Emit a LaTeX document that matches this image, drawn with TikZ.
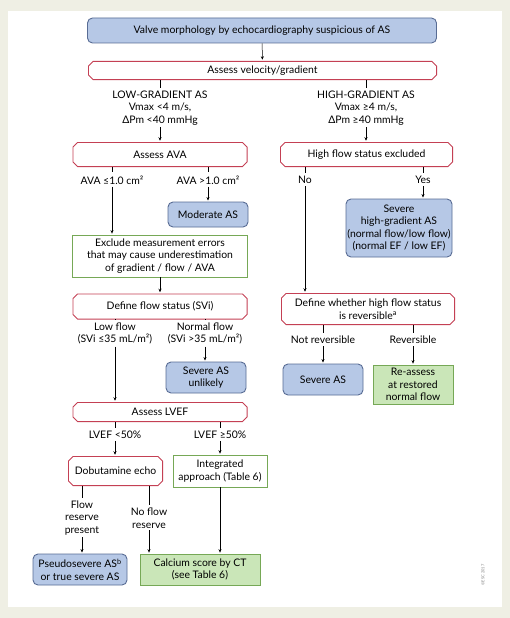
\documentclass[tikz,border=0pt]{standalone}
\usepackage{fontspec}
\setmainfont{Lato}
\usetikzlibrary{arrows.meta}

\definecolor{pagebg}{RGB}{239,239,228}
\definecolor{escred}{RGB}{196,64,84}
\definecolor{escblue}{RGB}{182,200,230}
\definecolor{escblueline}{RGB}{88,108,148}
\definecolor{escgreen}{RGB}{118,168,86}
\definecolor{escgreenfill}{RGB}{202,230,184}
\def\ppbb{path picture bounding box}

\begin{document}
\begin{tikzpicture}[x=1pt,y=-1pt,font=\fontsize{10.4}{12.5}\selectfont,
  >={Stealth[length=3.5pt,width=3pt]},line width=0.5pt,shorten >=1pt,
  redbox/.style={rectangle,fill=white,inner sep=1pt,align=center,
    path picture={\draw[escred,line width=0.9pt]
      ([xshift=5pt,yshift=-.45pt]\ppbb.north west) -- ([xshift=-5pt,yshift=-.45pt]\ppbb.north east)
      -- ([xshift=-.45pt,yshift=-5pt]\ppbb.north east) -- ([xshift=-.45pt,yshift=5pt]\ppbb.south east)
      -- ([xshift=-5pt,yshift=.45pt]\ppbb.south east) -- ([xshift=5pt,yshift=.45pt]\ppbb.south west)
      -- ([xshift=.45pt,yshift=5pt]\ppbb.south west) -- ([xshift=.45pt,yshift=-5pt]\ppbb.north west) -- cycle;}},
  bluebox/.style={rectangle,rounded corners=5pt,draw=escblueline,line width=0.9pt,
    fill=escblue,inner sep=1pt,align=center},
  greenbox/.style={rectangle,draw=escgreen,line width=0.7pt,fill=white,
    inner sep=1pt,align=center},
  greenfill/.style={greenbox,fill=escgreenfill},
  lbl/.style={align=center,inner sep=2pt}]
\fill[pagebg] (0,0) rectangle (510,618);
\fill[white] (8,11) rectangle (502,607);
\useasboundingbox (0,0) rectangle (510,618);
% boxes and labels
\node[bluebox,minimum width=349pt,minimum height=25pt] at (262,30.5) (valve) {Valve morphology by echocardiography suspicious of AS};
\node[redbox,minimum width=349pt,minimum height=19pt] at (262.5,70.5) (velgrad) {Assess velocity/gradient};
\node[lbl] at (160,108) (lowgrad) {LOW-GRADIENT AS\\Vmax <4 m/s,\\ΔPm <40 mmHg};
\node[lbl] at (366,108) (highgrad) {HIGH-GRADIENT AS\\Vmax ≥4 m/s,\\ΔPm ≥40 mmHg};
\node[redbox,minimum width=175pt,minimum height=25pt] at (160,154.5) (ava) {Assess AVA};
\node[redbox,minimum width=173pt,minimum height=25pt] at (366.5,154.5) (hfs) {High flow status excluded};
\node[lbl] at (112,180) (avale) {AVA ≤1.0 cm²};
\node[lbl] at (208,180) (avagt) {AVA >1.0 cm²};
\node[lbl] at (305,180) (no) {No};
\node[lbl] at (423,180) (yes) {Yes};
\node[bluebox,minimum width=80pt,minimum height=25pt] at (208,214.5) (moderate) {Moderate AS};
\node[bluebox,minimum width=106pt,minimum height=58pt] at (399,228) (severehg) {Severe\\high-gradient AS\\(normal flow/low flow)\\(normal EF / low EF)};
\node[greenbox,minimum width=175pt,minimum height=42pt] at (160,256) (exclude) {Exclude measurement errors\\that may cause underestimation\\of gradient / flow / AVA};
\node[redbox,minimum width=175pt,minimum height=26pt] at (160,306.5) (flowstat) {Define flow status (SVi)};
\node[redbox,minimum width=174pt,minimum height=32pt] at (368,309) (reversible) {Define whether high flow status\\is reversible\textsuperscript{a}};
\node[lbl] at (115,333.5) (lowflow) {Low flow\\(SVi ≤35 mL/m²)};
\node[lbl] at (205,333.5) (normflow) {Normal flow\\(SVi >35 mL/m²)};
\node[lbl] at (323,340) (notrev) {Not reversible};
\node[lbl] at (413,340) (rev) {Reversible};
\node[bluebox,minimum width=80pt,minimum height=31pt] at (206,377.5) (unlikely) {Severe AS\\unlikely};
\node[bluebox,minimum width=80pt,minimum height=31pt] at (323,379.5) (severe) {Severe AS};
\node[greenfill,minimum width=80pt,minimum height=39pt] at (413,384.5) (reassess) {Re-assess\\at restored\\normal flow};
\node[redbox,minimum width=175pt,minimum height=20pt] at (160,412) (lvef) {Assess LVEF};
\node[lbl] at (115,435) (lvlow) {LVEF <50\%};
\node[lbl] at (220,435) (lvhigh) {LVEF ≥50\%};
\node[redbox,minimum width=95pt,minimum height=30pt] at (115.5,471) (dobut) {Dobutamine echo};
\node[greenbox,minimum width=94pt,minimum height=32pt] at (220,471) (integ) {Integrated\\approach (Table 6)};
\node[lbl] at (82,518) (reserve) {Flow\\reserve\\present};
\node[lbl] at (149,518) (noreserve) {No flow\\reserve};
\node[bluebox,minimum width=94pt,minimum height=31pt] at (80,569.5) (pseudo) {Pseudosevere AS\textsuperscript{b}\\or true severe AS};
\node[greenfill,minimum width=120pt,minimum height=31pt] at (200,569.5) (calcium) {Calcium score by CT\\(see Table 6)};
\node[rotate=90,font=\fontsize{4}{4}\selectfont,text=gray] at (483,575) (copyr) {©ESC 2017};
% connectors
\draw[->] (valve) -- (velgrad);
\draw (velgrad.south -| lowgrad) -- (lowgrad.north);
\draw (velgrad.south -| highgrad) -- (highgrad.north);
\draw[->] (lowgrad) -- (ava);
\draw[->] (highgrad) -- (highgrad |- hfs.north);
\draw (ava.south -| avale) -- (avale.north);
\draw (ava.south -| avagt) -- (avagt.north);
\draw[->] (avagt) -- (moderate);
\draw[->] (avale) -- (avale |- exclude.north);
\draw (hfs.south -| no) -- (no.north);
\draw (hfs.south -| yes) -- (yes.north);
\draw[->] (yes) -- (yes |- severehg.north);
\draw[->] (no) -- (no |- reversible.north);
\draw[->] (exclude) -- (flowstat);
\draw (flowstat.south -| lowflow) -- (lowflow.north);
\draw (flowstat.south -| normflow) -- (normflow.north);
\draw[->] (normflow) -- (normflow |- unlikely.north);
\draw[->] (lowflow) -- (lowflow |- lvef.north);
\draw (reversible.south -| notrev) -- (notrev.north);
\draw (reversible.south -| rev) -- (rev.north);
\draw[->] (notrev) -- (severe);
\draw[->] (rev) -- (reassess);
\draw (lvef.south -| lvlow) -- (lvlow.north);
\draw (lvef.south -| lvhigh) -- (lvhigh.north);
\draw[->] (lvlow) -- (lvlow |- dobut.north);
\draw[->] (lvhigh) -- (integ);
\draw (dobut.south -| reserve) -- (reserve.north);
\draw (dobut.south -| noreserve) -- (noreserve.north);
\draw[->] (reserve) -- (reserve |- pseudo.north);
\draw[->] (noreserve) -- (noreserve |- calcium.north);
\draw[->] (integ) -- (integ |- calcium.north);
\end{tikzpicture}
\end{document}
